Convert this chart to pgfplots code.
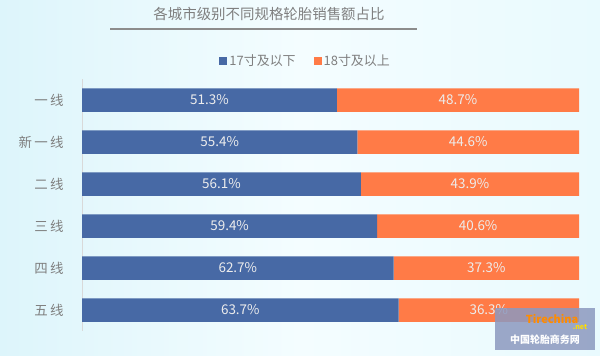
\documentclass[border=0pt]{standalone}
\usepackage{pgfplots}
\pgfplotsset{compat=1.18}
\usepackage{pgfplotstable}
\usepackage{fontspec}
\setmainfont{Noto Sans CJK SC}
\definecolor{cblue}{HTML}{4769A5}
\definecolor{corange}{HTML}{FF7B47}
\definecolor{lblgray}{HTML}{7F7F7F}
\definecolor{axgray}{HTML}{D9D9D9}
\definecolor{bgL}{HTML}{DDF5FB}
\definecolor{bgM}{HTML}{F4FDFF}
\definecolor{bgR}{HTML}{E9FAFE}
\definecolor{wm}{HTML}{8C99BF}
\pgfplotstableread{
idx low high
0 51.3 48.7
1 55.4 44.6
2 56.1 43.9
3 59.4 40.6
4 62.7 37.3
5 63.7 36.3
}\datatable
\begin{document}
\begin{tikzpicture}[x=1bp,y=1bp]
\shade[left color=bgL, right color=bgR, middle color=bgM] (0,0) rectangle (600,355);
\useasboundingbox (0,0) rectangle (600,355);
% title
\node[font=\fontsize{14.5}{18}\selectfont, text=lblgray] at (269,341) {各城市级别不同规格轮胎销售额占比};
\draw[line width=1.6bp, color=black!45] (110,326) -- (417,326);
\begin{axis}[
  at={(82bp,24bp)}, anchor=south west,
  scale only axis, width=497bp, height=252bp,
  xbar stacked, bar width=23.5bp,
  xmin=0, xmax=100, ymin=-0.5, ymax=5.5,
  y dir=reverse,
  axis x line=none,
  axis y line*=left,
  y axis line style={draw=axgray, line width=0.8bp, -},
  ytick={0,1,2,3,4,5},
  yticklabels={一\,线,新\,一\,线,二\,线,三\,线,四\,线,五\,线},
  major tick length=0pt,
  yticklabel style={font=\fontsize{13.5}{15}\selectfont, text=lblgray, xshift=-15bp},
  legend columns=2,
  legend style={at={(0.45,1.071)}, anchor=center, draw=none, fill=none,
    font=\fontsize{13}{15}\selectfont, text=lblgray,
    /tikz/every even column/.append style={column sep=16bp}},
  legend image code/.code={\fill[#1] (0bp,-4bp) rectangle (8bp,4bp);},
]
\addplot[fill=cblue, draw=none] table[x=low,y=idx] {\datatable};
\addlegendentry{17寸及以下}
\addplot[fill=corange, draw=none] table[x=high,y=idx] {\datatable};
\addlegendentry{18寸及以上}
\end{axis}
% value labels, centred in each segment
\begin{axis}[
  at={(82bp,24bp)}, anchor=south west,
  scale only axis, width=497bp, height=252bp,
  xmin=0, xmax=100, ymin=-0.5, ymax=5.5,
  y dir=reverse, hide axis,
  /pgf/number format/assume math mode=true,
  nodes near coords={\pgfmathprintnumber[fixed,precision=1,fixed zerofill]{\pgfplotspointmeta}\%},
  every node near coord/.append style={font=\fontsize{13.5}{15}\selectfont, text=white!93!black, anchor=center, inner sep=0pt},
]
\addplot[only marks, mark=none, point meta=explicit]
  table[x expr=\thisrow{low}/2, y=idx, meta=low] {\datatable};
\addplot[only marks, mark=none, point meta=explicit]
  table[x expr=\thisrow{low}+\thisrow{high}/2, y=idx, meta=high] {\datatable};
\end{axis}
% watermark
\fill[wm, opacity=0.85] (495,5) rectangle (595,47);
\node[font=\fontsize{11}{12}\selectfont\itshape\bfseries, text=orange!90!yellow] at (552,36) {Tirechina};
\node[font=\fontsize{7}{8}\selectfont\itshape\bfseries, text=yellow!80!orange] at (580,28) {.net};
\node[font=\fontsize{10}{12}\selectfont\bfseries, text=white] at (545,15) {中国轮胎商务网};
\end{tikzpicture}
\end{document}
